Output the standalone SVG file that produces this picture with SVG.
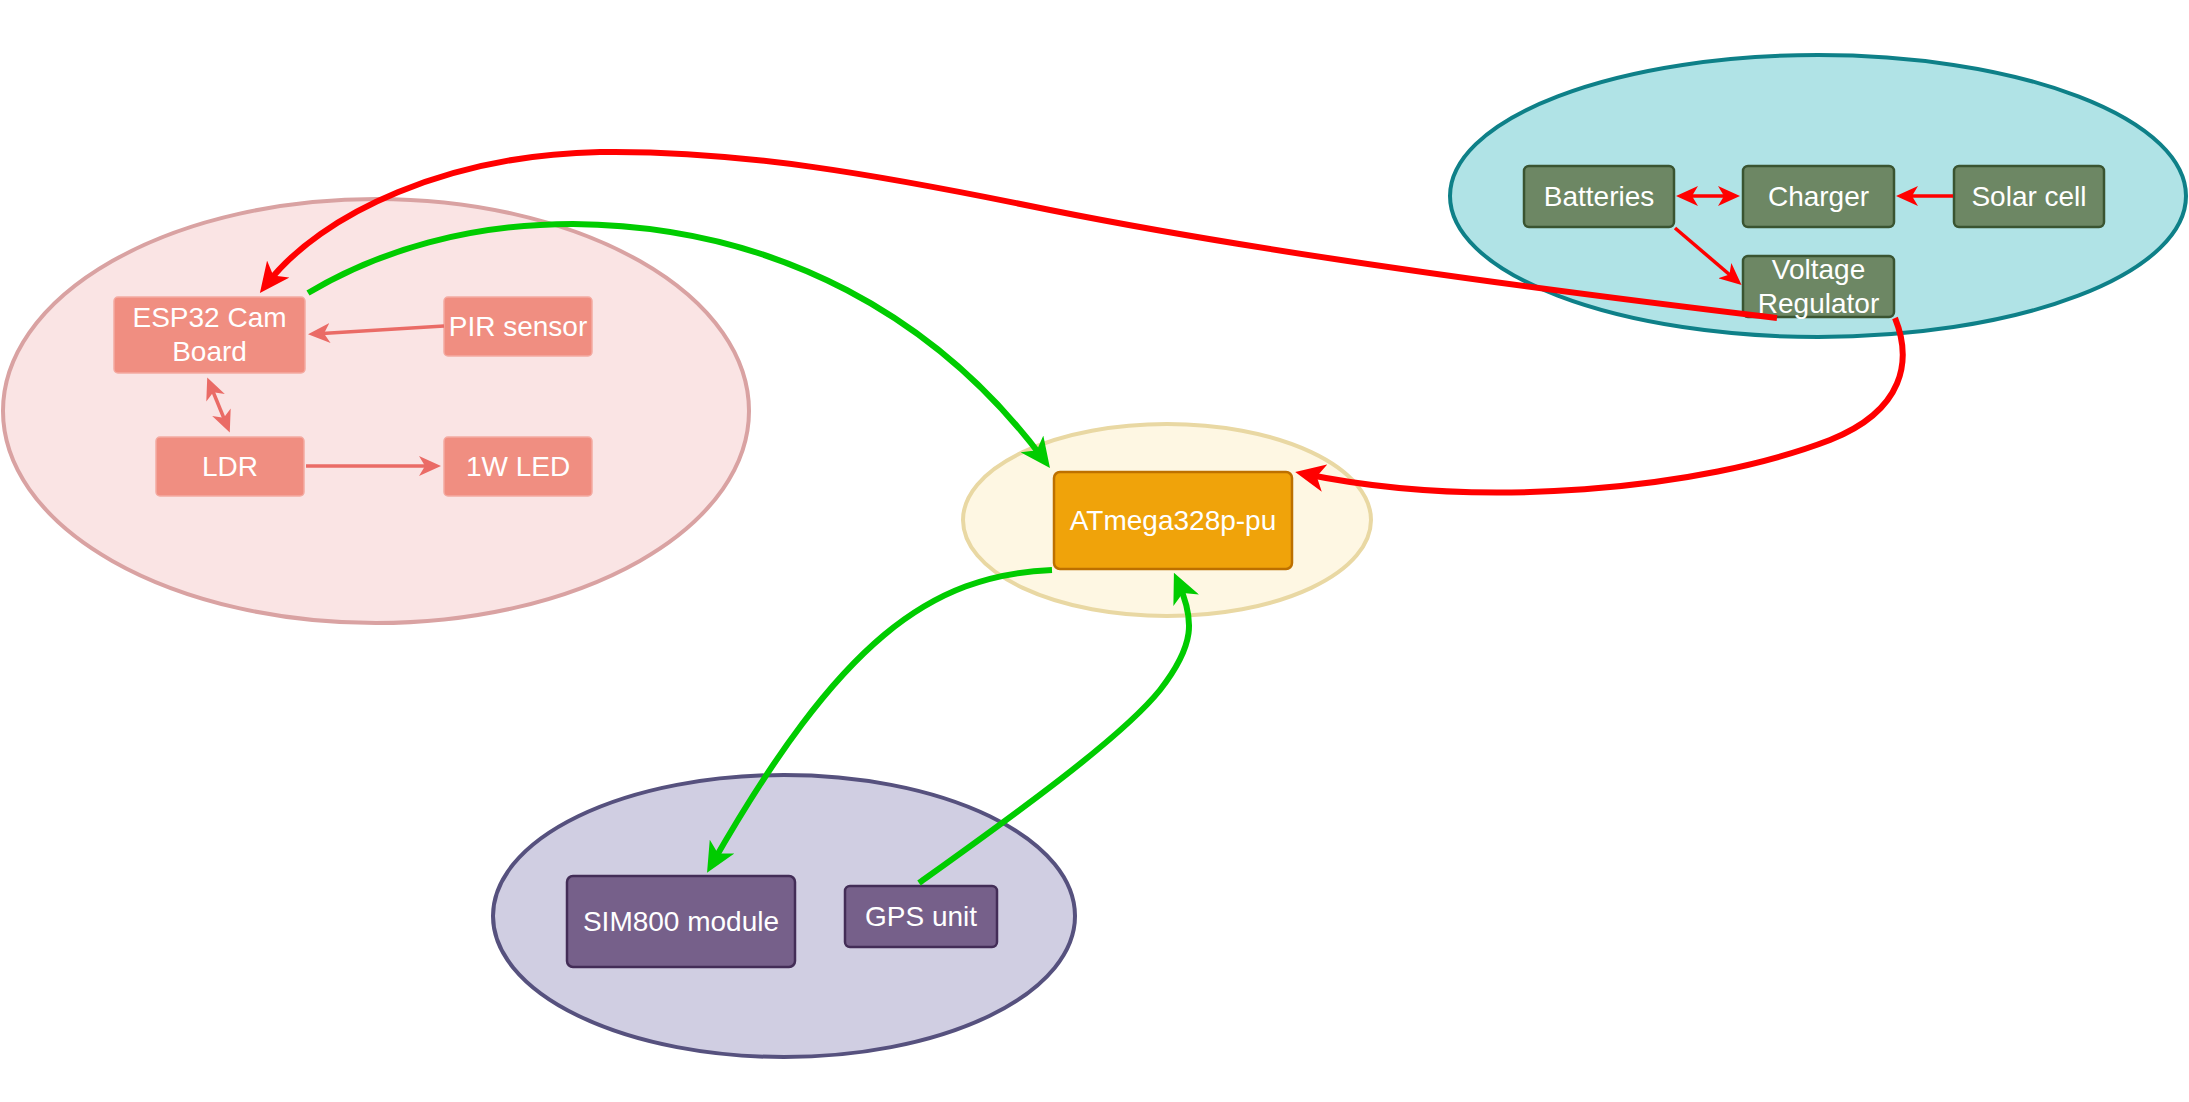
<svg xmlns="http://www.w3.org/2000/svg" width="2189" height="1102" viewBox="0 0 2189 1102">
<style>
text{font-family:"Liberation Sans",Arial,sans-serif;font-size:28px;fill:#ffffff;text-anchor:middle}
.pinkbox{fill:#f08e81;stroke:#f4aaa1;stroke-width:1.5}
.greenbox{fill:#6d8764;stroke:#3a5431;stroke-width:2.5}
.purplebox{fill:#76608a;stroke:#432d57;stroke-width:2.5}
.big{fill:none;stroke-width:6}
.small{fill:none;stroke-width:3.5}
.red{stroke:#ff0000}
.green{stroke:#00cc00}
.salmon{stroke:#ea6b66}
</style>
<defs>
<marker id="aRed" markerUnits="userSpaceOnUse" markerWidth="30" markerHeight="28" refX="20" refY="14" orient="auto"><path d="M0,0 L30,14 L0,28 L8,14 Z" fill="#ff0000"/></marker>
<marker id="aGreen" markerUnits="userSpaceOnUse" markerWidth="30" markerHeight="28" refX="20" refY="14" orient="auto"><path d="M0,0 L30,14 L0,28 L8,14 Z" fill="#00cc00"/></marker>
<marker id="sRed" markerUnits="userSpaceOnUse" markerWidth="22" markerHeight="20" refX="16" refY="10" orient="auto-start-reverse"><path d="M0,0 L22,10 L0,20 L6,10 Z" fill="#ff0000"/></marker>
<marker id="sSalmon" markerUnits="userSpaceOnUse" markerWidth="22" markerHeight="20" refX="16" refY="10" orient="auto-start-reverse"><path d="M0,0 L22,10 L0,20 L6,10 Z" fill="#ea6b66"/></marker>
</defs>
<rect width="2189" height="1102" fill="#ffffff"/>

<g id="group-camera">
<ellipse cx="376" cy="411" rx="373" ry="212" fill="#fae4e4" stroke="#d9a2a2" stroke-width="4"/>
</g>
<g id="group-mcu">
<ellipse cx="1167" cy="520" rx="204" ry="96" fill="#fef7e3" stroke="#e9d8a3" stroke-width="4"/>
</g>
<g id="group-comm">
<ellipse cx="784" cy="916" rx="291" ry="141" fill="#d0cee2" stroke="#56517e" stroke-width="4"/>
</g>
<g id="group-power">
<ellipse cx="1818" cy="196" rx="368" ry="141" fill="#b0e3e6" stroke="#0e8088" stroke-width="4"/>
</g>

<g id="node-esp32"><rect class="pinkbox" x="114" y="297" width="191" height="76" rx="4"/><text x="209.5" y="327">ESP32 Cam</text><text x="209.5" y="361">Board</text></g>
<g id="node-pir"><rect class="pinkbox" x="444" y="297" width="148" height="59" rx="4"/><text x="518" y="336">PIR sensor</text></g>
<g id="node-ldr"><rect class="pinkbox" x="156" y="437" width="148" height="59" rx="4"/><text x="230" y="476">LDR</text></g>
<g id="node-led"><rect class="pinkbox" x="444" y="437" width="148" height="59" rx="4"/><text x="518" y="476">1W LED</text></g>

<g id="node-atmega"><rect x="1054" y="472" width="238" height="97" rx="6" fill="#f0a30a" stroke="#bd7000" stroke-width="2.5"/><text x="1173" y="530">ATmega328p-pu</text></g>

<g id="node-sim800"><rect class="purplebox" x="567" y="876" width="228" height="91" rx="6"/><text x="681" y="931">SIM800 module</text></g>
<g id="node-gps"><rect class="purplebox" x="845" y="886" width="152" height="61" rx="5"/><text x="921" y="926">GPS unit</text></g>

<g id="node-batteries"><rect class="greenbox" x="1524" y="166" width="150" height="61" rx="5"/><text x="1599" y="206">Batteries</text></g>
<g id="node-charger"><rect class="greenbox" x="1743" y="166" width="151" height="61" rx="5"/><text x="1818.5" y="206">Charger</text></g>
<g id="node-solar"><rect class="greenbox" x="1954" y="166" width="150" height="61" rx="5"/><text x="2029" y="206">Solar cell</text></g>
<g id="node-regulator"><rect class="greenbox" x="1743" y="256" width="151" height="61" rx="5"/><text x="1818.5" y="279">Voltage</text><text x="1818.5" y="313">Regulator</text></g>

<g id="connectors">
<path class="small salmon" d="M444,326 L314,334" marker-end="url(#sSalmon)"/>
<path class="small salmon" d="M209.5,383 L227.5,427" marker-start="url(#sSalmon)" marker-end="url(#sSalmon)"/>
<path class="small salmon" d="M306,466 L435,466" marker-end="url(#sSalmon)"/>

<path class="small red" d="M1682,196 L1734,196" marker-start="url(#sRed)" marker-end="url(#sRed)"/>
<path class="small red" d="M1953,196 L1902,196" marker-end="url(#sRed)"/>
<path class="small red" d="M1675,228 L1737,281" marker-end="url(#sRed)"/>

<path class="big red" d="M1777,318 C1500,285 1250,250 1050,210 C880,175 740,150 600,152 C450,155 322,212 266,285" marker-end="url(#aRed)"/>
<path class="big red" d="M1895,318 C1912,360 1905,410 1830,440 C1700,490 1480,510 1305,474" marker-end="url(#aRed)"/>
<path class="big green" d="M308,293 C380,250 470,224 573,224 C780,226 940,320 1044,460" marker-end="url(#aGreen)"/>
<path class="big green" d="M1052,570 C930,575 840,640 712,864" marker-end="url(#aGreen)"/>
<path class="big green" d="M919,883 C1000,825 1120,740 1160,690 C1195,645 1195,620 1178,582" marker-end="url(#aGreen)"/>
</g>
</svg>
